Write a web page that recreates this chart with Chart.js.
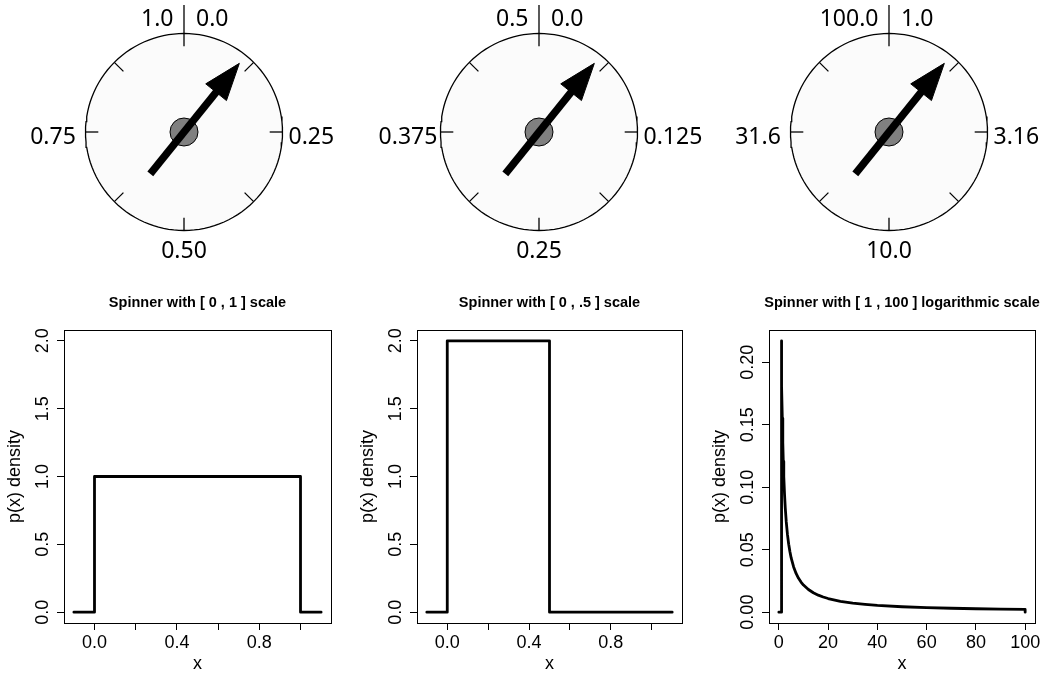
<!DOCTYPE html>
<html>
<head>
<meta charset="utf-8">
<script src="https://cdn.jsdelivr.net/npm/chart.js@4.4.1/dist/chart.umd.min.js"></script>
<style>
  html, body { margin: 0; padding: 0; background: #fff; }
  #wrap { position: relative; width: 1050px; height: 681px; overflow: hidden; }
  #wrap canvas { position: absolute; }
</style>
</head>
<body>
<div id="wrap"></div>
<script>
// ============================================================
// Tre spinner (riga sopra) e le rispettive densita' p(x) (riga sotto)
// ============================================================

// --- Spinner: posizione della lancetta in frazione di giro ---
const spinnerValues = [0.108, 0.108, 0.108];
const dialTopLeft = ["1.0", "0.5", "100.0"];
const dialTopRight = ["0.0", "0.0", "1.0"];
const dialRight = ["0.25", "0.125", "3.16"];
const dialBottom = ["0.50", "0.25", "10.0"];
const dialLeft = ["0.75", "0.375", "31.6"];

// --- Densita' ---
const plotTitles = [
  "Spinner with [ 0 , 1 ] scale",
  "Spinner with [ 0 , .5 ] scale",
  "Spinner with [ 1 , 100 ] logarithmic scale",
];

const uniformX = [-0.1, 0, 0, 1, 1, 1.1];
const uniformY = [0, 0, 1, 1, 0, 0];

const halfX = [-0.1, 0, 0, 0.5, 0.5, 1.1];
const halfY = [0, 0, 2, 2, 0, 0];

const logX = [0, 1, 1, 1.2, 1.4, 1.6, 1.8, 2, 2.3, 2.6, 3, 3.5, 4, 4.5, 5, 6, 7, 8, 9, 10,
  12, 14, 16, 18, 20, 25, 30, 35, 40, 50, 60, 70, 80, 90, 100, 100];
const logY = [0, 0, 0.2171, 0.181, 0.1551, 0.1357, 0.1206, 0.1086, 0.0944, 0.0835, 0.0724,
  0.062, 0.0543, 0.0483, 0.0434, 0.0362, 0.031, 0.0271, 0.0241, 0.0217, 0.0181, 0.0155,
  0.0136, 0.0121, 0.0109, 0.0087, 0.0072, 0.0062, 0.0054, 0.0043, 0.0036, 0.0031, 0.0027,
  0.0024, 0.0022, 0];

const unitXTicks = [0, 0.2, 0.4, 0.6, 0.8, 1.0];
const unitXLabels = ["0.0", "", "0.4", "", "0.8", ""];
const unitYTicks = [0, 0.5, 1, 1.5, 2];
const unitYLabels = ["0.0", "0.5", "1.0", "1.5", "2.0"];
const logXTicks = [0, 20, 40, 60, 80, 100];
const logXLabels = ["0", "20", "40", "60", "80", "100"];
const logYTicks = [0, 0.05, 0.1, 0.15, 0.2];
const logYLabels = ["0.00", "0.05", "0.10", "0.15", "0.20"];

// Impaginazione
const DIAL_R = 98.5;
const dialCenters = [183.5, 538.5, 889];
const plotBoxes = [
  { left: 64, right: 331 },
  { left: 417, right: 682 },
  { left: 769, right: 1035 },
];
const PLOT_TOP = 280;
const AXIS_W = 70;

Chart.defaults.font.family = '"Liberation Sans", Arial, sans-serif';
Chart.defaults.color = "#000";

function makeCanvas(left, top, w, h) {
  const c = document.createElement("canvas");
  c.width = w;
  c.height = h;
  c.style.left = left + "px";
  c.style.top = top + "px";
  c.style.width = w + "px";
  c.style.height = h + "px";
  document.getElementById("wrap").appendChild(c);
  return c;
}

// punto a distanza r lungo l'angolo a (in senso orario dalle 12)
function pol(r, a) {
  return { x: r * Math.sin(a), y: r * Math.cos(a) };
}

// Etichette attorno al quadrante
const dialLabelPlugin = {
  id: "dialLabels",
  afterDraw(chart, args, o) {
    const { ctx } = chart;
    const { x, y } = chart.scales;
    ctx.save();
    ctx.font = '23px "Noto Sans"';
    ctx.fillStyle = "#000";
    ctx.textBaseline = "alphabetic";
    ctx.textAlign = "right";
    ctx.fillText(o.topLeft, x.getPixelForValue(-10.5), y.getPixelForValue(106));
    ctx.textAlign = "left";
    ctx.fillText(o.topRight, x.getPixelForValue(12), y.getPixelForValue(106));
    ctx.fillText(o.right, x.getPixelForValue(104.5), y.getPixelForValue(-11.5));
    ctx.textAlign = "center";
    ctx.fillText(o.bottom, x.getPixelForValue(0), y.getPixelForValue(-126));
    ctx.fillText(o.left, x.getPixelForValue(-131), y.getPixelForValue(-11.5));
    ctx.restore();
  },
};

function disegnaSpinner(i) {
  const R = DIAL_R;
  const canvas = makeCanvas(dialCenters[i] - 170, 0, 340, 264);

  const face = [];
  for (let k = 0; k <= 120; k++) face.push(pol(R, (k / 120) * 2 * Math.PI));

  const ticks = [];
  for (let k = 0; k < 8; k++) {
    const a = (k * Math.PI) / 4;
    ticks.push({
      data: [pol(0.87 * R, a), pol(k === 0 ? 1.29 * R : R, a)],
      showLine: true,
      borderColor: "#000",
      borderWidth: 1.3,
      pointRadius: 0,
    });
  }

  const th = spinnerValues[i] * 2 * Math.PI;
  const base = pol(0.519 * R, th);
  const hw = 0.135 * R;
  const perp = { x: Math.cos(th), y: -Math.sin(th) };
  const head = [
    pol(0.895 * R, th),
    { x: base.x + hw * perp.x, y: base.y + hw * perp.y },
    { x: base.x - hw * perp.x, y: base.y - hw * perp.y },
    pol(0.895 * R, th),
  ];

  new Chart(canvas, {
    type: "scatter",
    data: {
      datasets: [
        {
          data: head,
          showLine: true,
          fill: "shape",
          backgroundColor: "#000",
          borderColor: "#000",
          borderWidth: 1,
          pointRadius: 0,
        },
        {
          data: [pol(-0.545 * R, th), pol(0.54 * R, th)],
          showLine: true,
          borderColor: "#000",
          borderWidth: 7.5,
          borderCapStyle: "butt",
          pointRadius: 0,
        },
        {
          data: [{ x: 0, y: 0 }],
          pointRadius: 14,
          pointBackgroundColor: "#808080",
          pointBorderColor: "#000",
          pointBorderWidth: 1,
        },
        ...ticks,
        {
          data: face,
          showLine: true,
          fill: "shape",
          backgroundColor: "#fbfbfb",
          borderColor: "#000",
          borderWidth: 1.3,
          pointRadius: 0,
        },
      ],
    },
    options: {
      responsive: false,
      animation: false,
      events: [],
      layout: { padding: 0, autoPadding: false },
      plugins: {
        legend: { display: false },
        tooltip: { enabled: false },
        dialLabels: {
          topLeft: dialTopLeft[i],
          topRight: dialTopRight[i],
          right: dialRight[i],
          bottom: dialBottom[i],
          left: dialLeft[i],
        },
      },
      scales: {
        x: { type: "linear", min: -170, max: 170, display: false },
        y: { type: "linear", min: -132, max: 132, display: false },
      },
    },
    plugins: [dialLabelPlugin],
  });
}

// Riquadro completo attorno all'area del grafico e titolo centrato su di essa
const boxPlugin = {
  id: "rBox",
  afterDraw(chart, args, o) {
    const { ctx, chartArea: a } = chart;
    ctx.save();
    ctx.strokeStyle = "#000";
    ctx.lineWidth = 1;
    ctx.strokeRect(Math.round(a.left) + 0.5, Math.round(a.top) + 0.5,
      Math.round(a.right - a.left), Math.round(a.bottom - a.top));
    ctx.fillStyle = "#000";
    ctx.font = 'bold 14.5px "Liberation Sans", Arial, sans-serif';
    ctx.textAlign = "center";
    ctx.textBaseline = "middle";
    ctx.fillText(o.title, (a.left + a.right) / 2, a.top - 27.5);
    ctx.restore();
  },
};

// Etichette dell'asse y ruotate, come nei grafici di R
const yTextPlugin = {
  id: "yText",
  afterDraw(chart, args, o) {
    const { ctx, chartArea: a } = chart;
    const y = chart.scales.y;
    ctx.save();
    ctx.fillStyle = "#000";
    ctx.font = '18px "Liberation Sans", Arial, sans-serif';
    ctx.textAlign = "center";
    ctx.textBaseline = "alphabetic";
    o.ticks.forEach((v, k) => {
      ctx.save();
      ctx.translate(a.left - 15.7, y.getPixelForValue(v));
      ctx.rotate(-Math.PI / 2);
      ctx.fillText(o.labels[k], 0, 0);
      ctx.restore();
    });
    ctx.translate(a.left - 44, (a.top + a.bottom) / 2);
    ctx.rotate(-Math.PI / 2);
    ctx.fillText("p(x) density", 0, 0);
    ctx.restore();
  },
};

function disegnaDensita(i, xs, ys, xTicks, xLabels, yTicks, yLabels, xRange, yRange) {
  const box = plotBoxes[i];
  const canvas = makeCanvas(box.left - AXIS_W, PLOT_TOP, box.right - box.left + AXIS_W + 14, 401);

  new Chart(canvas, {
    type: "scatter",
    data: {
      datasets: [
        {
          data: xs.map((x, k) => ({ x, y: ys[k] })),
          showLine: true,
          borderColor: "#000",
          borderWidth: 2.8,
          borderJoinStyle: "round",
          borderCapStyle: "round",
          pointRadius: 0,
          tension: 0,
        },
      ],
    },
    options: {
      responsive: false,
      animation: false,
      events: [],
      layout: { padding: { right: 14, top: 50, bottom: 0, left: 0 }, autoPadding: false },
      plugins: {
        legend: { display: false },
        tooltip: { enabled: false },
        rBox: { title: plotTitles[i] },
        yText: { ticks: yTicks, labels: yLabels },
      },
      scales: {
        x: {
          type: "linear",
          min: xRange[0],
          max: xRange[1],
          afterBuildTicks: (s) => { s.ticks = xTicks.map((v) => ({ value: v })); },
          afterFit: (s) => { s.height = 58; },
          ticks: {
            autoSkip: false,
            maxRotation: 0,
            padding: 2,
            color: "#000",
            font: { size: 18 },
            callback: (v, k) => xLabels[k],
          },
          grid: { drawOnChartArea: false, tickLength: 7, color: "#000", lineWidth: 1 },
          border: { color: "#000" },
          title: {
            display: true,
            text: "x",
            color: "#000",
            font: { size: 18 },
            padding: { top: 0, bottom: 6 },
          },
        },
        y: {
          type: "linear",
          min: yRange[0],
          max: yRange[1],
          afterBuildTicks: (s) => { s.ticks = yTicks.map((v) => ({ value: v })); },
          afterFit: (s) => { s.width = AXIS_W; },
          ticks: { display: false },
          grid: { drawOnChartArea: false, tickLength: 7, color: "#000", lineWidth: 1 },
          border: { color: "#000" },
        },
      },
    },
    plugins: [boxPlugin, yTextPlugin],
  });
}

[0, 1, 2].forEach(disegnaSpinner);

disegnaDensita(0, uniformX, uniformY, unitXTicks, unitXLabels, unitYTicks, unitYLabels,
  [-0.148, 1.148], [-0.08, 2.08]);
disegnaDensita(1, halfX, halfY, unitXTicks, unitXLabels, unitYTicks, unitYLabels,
  [-0.148, 1.148], [-0.08, 2.08]);
disegnaDensita(2, logX, logY, logXTicks, logXLabels, logYTicks, logYLabels,
  [-4, 104], [-0.0087, 0.2258]);
</script>
</body>
</html>
